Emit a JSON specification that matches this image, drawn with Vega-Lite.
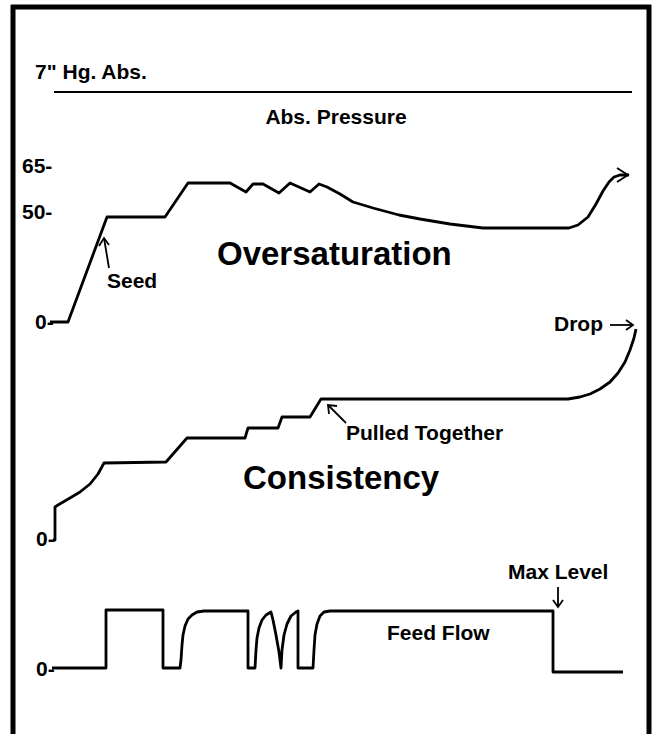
{
  "$schema": "https://vega.github.io/schema/vega-lite/v6.json",
  "width": 655,
  "height": 734,
  "padding": 0,
  "autosize": {"type": "none"},
  "background": "white",
  "config": {"view": {"stroke": null}},
  "datasets": {
    "frame": [
      {"x": 11, "x2": 651, "y": 7, "y2": 7},
      {"x": 13, "x2": 13, "y": 5, "y2": 734},
      {"x": 649, "x2": 649, "y": 5, "y2": 734}
    ],
    "hg": [
      {"x": 54, "x2": 632, "y": 92, "y2": 92}
    ],
    "curves": [
      {"s": "sat", "x": 50, "y": 322}, {"s": "sat", "x": 68, "y": 322}, {"s": "sat", "x": 107, "y": 217}, {"s": "sat", "x": 165, "y": 217},
      {"s": "sat", "x": 188, "y": 183}, {"s": "sat", "x": 230, "y": 183}, {"s": "sat", "x": 246, "y": 192}, {"s": "sat", "x": 253, "y": 184},
      {"s": "sat", "x": 263, "y": 184}, {"s": "sat", "x": 279, "y": 193}, {"s": "sat", "x": 290, "y": 183}, {"s": "sat", "x": 310, "y": 192},
      {"s": "sat", "x": 319, "y": 184}, {"s": "sat", "x": 327, "y": 187}, {"s": "sat", "x": 340, "y": 194}, {"s": "sat", "x": 353, "y": 202},
      {"s": "sat", "x": 373, "y": 208}, {"s": "sat", "x": 399, "y": 215}, {"s": "sat", "x": 420, "y": 219}, {"s": "sat", "x": 450, "y": 224},
      {"s": "sat", "x": 483, "y": 228}, {"s": "sat", "x": 569, "y": 228}, {"s": "sat", "x": 578, "y": 225}, {"s": "sat", "x": 588, "y": 217},
      {"s": "sat", "x": 596, "y": 204}, {"s": "sat", "x": 603, "y": 191}, {"s": "sat", "x": 609, "y": 182}, {"s": "sat", "x": 614, "y": 177},
      {"s": "sat", "x": 620, "y": 175}, {"s": "sat", "x": 629, "y": 175},

      {"s": "cons", "x": 53, "y": 540}, {"s": "cons", "x": 55, "y": 540}, {"s": "cons", "x": 55, "y": 507}, {"s": "cons", "x": 58, "y": 505},
      {"s": "cons", "x": 70, "y": 498}, {"s": "cons", "x": 80, "y": 492}, {"s": "cons", "x": 90, "y": 484}, {"s": "cons", "x": 98, "y": 474},
      {"s": "cons", "x": 104, "y": 463}, {"s": "cons", "x": 166, "y": 462}, {"s": "cons", "x": 187, "y": 438}, {"s": "cons", "x": 245, "y": 438},
      {"s": "cons", "x": 248, "y": 428}, {"s": "cons", "x": 278, "y": 428}, {"s": "cons", "x": 282, "y": 417}, {"s": "cons", "x": 310, "y": 417},
      {"s": "cons", "x": 321, "y": 399}, {"s": "cons", "x": 568, "y": 399}, {"s": "cons", "x": 580, "y": 397}, {"s": "cons", "x": 590, "y": 394},
      {"s": "cons", "x": 600, "y": 389}, {"s": "cons", "x": 610, "y": 382}, {"s": "cons", "x": 618, "y": 373}, {"s": "cons", "x": 625, "y": 362},
      {"s": "cons", "x": 630, "y": 350}, {"s": "cons", "x": 634, "y": 338}, {"s": "cons", "x": 636, "y": 329},

      {"s": "feed", "x": 52, "y": 668}, {"s": "feed", "x": 106, "y": 668}, {"s": "feed", "x": 106, "y": 610}, {"s": "feed", "x": 163, "y": 610},
      {"s": "feed", "x": 163, "y": 668}, {"s": "feed", "x": 180, "y": 668}, {"s": "feed", "x": 181, "y": 660}, {"s": "feed", "x": 182, "y": 645},
      {"s": "feed", "x": 183, "y": 635}, {"s": "feed", "x": 185, "y": 626}, {"s": "feed", "x": 188, "y": 619}, {"s": "feed", "x": 192, "y": 615},
      {"s": "feed", "x": 197, "y": 612}, {"s": "feed", "x": 204, "y": 611}, {"s": "feed", "x": 248, "y": 611}, {"s": "feed", "x": 248, "y": 668},
      {"s": "feed", "x": 255, "y": 668}, {"s": "feed", "x": 256, "y": 650}, {"s": "feed", "x": 257, "y": 638}, {"s": "feed", "x": 259, "y": 628},
      {"s": "feed", "x": 262, "y": 620}, {"s": "feed", "x": 266, "y": 615}, {"s": "feed", "x": 271, "y": 612}, {"s": "feed", "x": 273, "y": 620},
      {"s": "feed", "x": 276, "y": 635}, {"s": "feed", "x": 279, "y": 652}, {"s": "feed", "x": 281, "y": 668}, {"s": "feed", "x": 282, "y": 650},
      {"s": "feed", "x": 284, "y": 635}, {"s": "feed", "x": 287, "y": 624}, {"s": "feed", "x": 291, "y": 616}, {"s": "feed", "x": 296, "y": 612},
      {"s": "feed", "x": 298, "y": 611}, {"s": "feed", "x": 298, "y": 668}, {"s": "feed", "x": 313, "y": 668}, {"s": "feed", "x": 314, "y": 650},
      {"s": "feed", "x": 315, "y": 635}, {"s": "feed", "x": 317, "y": 624}, {"s": "feed", "x": 320, "y": 616}, {"s": "feed", "x": 324, "y": 612},
      {"s": "feed", "x": 330, "y": 611}, {"s": "feed", "x": 553, "y": 611}, {"s": "feed", "x": 553, "y": 672}, {"s": "feed", "x": 623, "y": 672}
    ],
    "arrows": [
      {"a": "sat_h", "x": 617, "y": 168}, {"a": "sat_h", "x": 628, "y": 175}, {"a": "sat_h", "x": 617, "y": 182},
      {"a": "seed_s", "x": 109, "y": 268}, {"a": "seed_s", "x": 104, "y": 238},
      {"a": "seed_h", "x": 99, "y": 246}, {"a": "seed_h", "x": 104, "y": 238}, {"a": "seed_h", "x": 109, "y": 245},
      {"a": "pt_s", "x": 346, "y": 423}, {"a": "pt_s", "x": 328, "y": 405},
      {"a": "pt_h", "x": 329, "y": 414}, {"a": "pt_h", "x": 328, "y": 405}, {"a": "pt_h", "x": 337, "y": 406},
      {"a": "drop_s", "x": 610, "y": 325}, {"a": "drop_s", "x": 633, "y": 325},
      {"a": "drop_h", "x": 626, "y": 320}, {"a": "drop_h", "x": 633, "y": 325}, {"a": "drop_h", "x": 626, "y": 330},
      {"a": "max_s", "x": 558, "y": 587}, {"a": "max_s", "x": 558, "y": 607},
      {"a": "max_h", "x": 553, "y": 600}, {"a": "max_h", "x": 558, "y": 607}, {"a": "max_h", "x": 563, "y": 600}
    ],
    "labels": [
      {"t": "7\" Hg. Abs.", "k": "small", "x": 35, "y": 79},
      {"t": "Abs. Pressure", "k": "smallc", "x": 336, "y": 124},
      {"t": "65-", "k": "small", "x": 22, "y": 173},
      {"t": "50-", "k": "small", "x": 22, "y": 219},
      {"t": "0-", "k": "small", "x": 35, "y": 329},
      {"t": "Seed", "k": "small", "x": 107, "y": 288},
      {"t": "Drop", "k": "small", "x": 554, "y": 331},
      {"t": "Pulled Together", "k": "small", "x": 346, "y": 440},
      {"t": "0-", "k": "small", "x": 36, "y": 546},
      {"t": "Max Level", "k": "small", "x": 508, "y": 579},
      {"t": "Feed Flow", "k": "small", "x": 387, "y": 640},
      {"t": "0-", "k": "small", "x": 36, "y": 676},
      {"t": "Oversaturation", "k": "big", "x": 217, "y": 265},
      {"t": "Consistency", "k": "big", "x": 243, "y": 489}
    ]
  },
  "layer": [
    {
      "data": {"name": "frame"},
      "mark": {"type": "rule", "color": "black", "strokeWidth": 5},
      "encoding": {
        "x": {"field": "x", "type": "quantitative", "scale": {"domain": [0, 655], "nice": false, "zero": false}, "axis": null},
        "x2": {"field": "x2"},
        "y": {"field": "y", "type": "quantitative", "scale": {"domain": [0, 734], "nice": false, "zero": false, "reverse": true}, "axis": null},
        "y2": {"field": "y2"}
      }
    },
    {
      "data": {"name": "hg"},
      "mark": {"type": "rule", "color": "black", "strokeWidth": 2.2},
      "encoding": {
        "x": {"field": "x", "type": "quantitative", "axis": null},
        "x2": {"field": "x2"},
        "y": {"field": "y", "type": "quantitative", "axis": null},
        "y2": {"field": "y2"}
      }
    },
    {
      "data": {"name": "curves"},
      "mark": {"type": "line", "color": "black", "strokeWidth": 2.8, "strokeJoin": "round"},
      "encoding": {
        "x": {"field": "x", "type": "quantitative", "axis": null},
        "y": {"field": "y", "type": "quantitative", "axis": null},
        "detail": {"field": "s", "type": "nominal"},
        "order": {"value": null}
      }
    },
    {
      "data": {"name": "arrows"},
      "mark": {"type": "line", "color": "black", "strokeWidth": 1.8},
      "encoding": {
        "x": {"field": "x", "type": "quantitative", "axis": null},
        "y": {"field": "y", "type": "quantitative", "axis": null},
        "detail": {"field": "a", "type": "nominal"},
        "order": {"value": null}
      }
    },
    {
      "data": {"name": "labels"},
      "transform": [{"filter": "datum.k === 'small'"}],
      "mark": {"type": "text", "font": "Liberation Sans", "fontWeight": "bold", "fontSize": 21, "baseline": "alphabetic", "align": "left", "color": "black"},
      "encoding": {
        "x": {"field": "x", "type": "quantitative", "axis": null},
        "y": {"field": "y", "type": "quantitative", "axis": null},
        "text": {"field": "t"}
      }
    },
    {
      "data": {"name": "labels"},
      "transform": [{"filter": "datum.k === 'smallc'"}],
      "mark": {"type": "text", "font": "Liberation Sans", "fontWeight": "bold", "fontSize": 21, "baseline": "alphabetic", "align": "center", "color": "black"},
      "encoding": {
        "x": {"field": "x", "type": "quantitative", "axis": null},
        "y": {"field": "y", "type": "quantitative", "axis": null},
        "text": {"field": "t"}
      }
    },
    {
      "data": {"name": "labels"},
      "transform": [{"filter": "datum.k === 'big'"}],
      "mark": {"type": "text", "font": "Liberation Sans", "fontWeight": "bold", "fontSize": 33, "baseline": "alphabetic", "align": "left", "color": "black"},
      "encoding": {
        "x": {"field": "x", "type": "quantitative", "axis": null},
        "y": {"field": "y", "type": "quantitative", "axis": null},
        "text": {"field": "t"}
      }
    }
  ]
}
